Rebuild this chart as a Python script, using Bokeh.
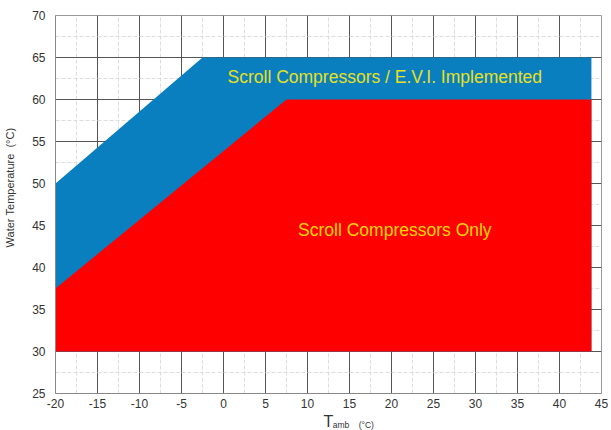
from bokeh.plotting import figure
from bokeh.models import (Range1d, SingleIntervalTicker, FixedTicker, LinearAxis,
                          Label, CustomJSTickFormatter)
from bokeh.embed import file_html
from bokeh.resources import INLINE

# Envelope boundaries (Tamb in °C, water temperature in °C)
evi_x = [-20, -2.5, 43.8, 43.8, -20]
evi_y = [50, 65, 65, 30, 30]
scroll_x = [-20, 7.5, 43.8, 43.8, -20]
scroll_y = [37.5, 60, 60, 30, 30]

evi_label = "Scroll Compressors / E.V.I. Implemented"
evi_label_pos = (19.2, 62.7)
scroll_label = "Scroll Compressors Only"
scroll_label_pos = (20.4, 44.5)

NB = "\u00a0"
y_title = NB * 11 + "Water" + NB + "Temperature" + NB + NB + "(°C)"
x_title_main = "T"
x_title_sub = NB * 21 + "amb" + NB * 4 + "(°C)"

FONT = "Liberation Sans"
TXT = "#333333"

p = figure(width=611, height=430, frame_width=546, frame_height=378,
           x_range=Range1d(-20, 45), y_range=Range1d(25, 70),
           output_backend="svg", toolbar_location=None,
           min_border_left=55, min_border_right=10, min_border_top=15, min_border_bottom=37)

p.background_fill_color = "white"
p.outline_line_color = "#999999"

fmt = CustomJSTickFormatter(code="return tick.toString();")
for ax in (p.xaxis[0], p.yaxis[0]):
    ax.ticker = SingleIntervalTicker(interval=5, num_minor_ticks=2)
    ax.formatter = fmt
    ax.major_tick_out = 0
    ax.major_tick_in = 0
    ax.minor_tick_out = 0
    ax.minor_tick_in = 0
    ax.axis_line_color = "#888888"
    ax.major_label_text_font = FONT
    ax.major_label_text_font_size = "12px"
    ax.major_label_text_color = TXT
    ax.axis_label_text_font = FONT
    ax.axis_label_text_font_style = "normal"
    ax.axis_label_text_color = TXT

p.xaxis.major_label_standoff = 5
p.yaxis.major_label_standoff = 10

p.yaxis.axis_label = y_title
p.yaxis.axis_label_text_font_size = "11px"
p.yaxis.axis_label_standoff = 13

p.xaxis.axis_label = x_title_main
p.xaxis.axis_label_text_font_size = "16px"
p.xaxis.axis_label_standoff = 2

sub_axis = LinearAxis(ticker=FixedTicker(ticks=[], minor_ticks=[]),
                      axis_line_color=None, major_tick_out=0, major_tick_in=0,
                      minor_tick_out=0, minor_tick_in=0,
                      axis_label=x_title_sub, axis_label_text_font=FONT,
                      axis_label_text_font_size="8.5px", axis_label_text_font_style="normal",
                      axis_label_text_color=TXT, axis_label_standoff=-13)
p.add_layout(sub_axis, "below")

for g in (p.xgrid[0], p.ygrid[0]):
    g.grid_line_color = "#555555"
    g.grid_line_width = 1
    g.minor_grid_line_color = "#dddddd"
    g.minor_grid_line_dash = "4 2"

p.patch(evi_x, evi_y, fill_color="#0a7fbf", line_color=None)
p.patch(scroll_x, scroll_y, fill_color="#ff0000", line_color=None)

p.add_layout(Label(x=evi_label_pos[0], y=evi_label_pos[1], text=evi_label,
                   text_align="center", text_baseline="middle",
                   text_font=FONT, text_font_size="17.5px", text_color="#e8e020"))
p.add_layout(Label(x=scroll_label_pos[0], y=scroll_label_pos[1], text=scroll_label,
                   text_align="center", text_baseline="middle",
                   text_font=FONT, text_font_size="17.5px", text_color="#ffd700"))

open("out.html", "w").write(file_html(p, INLINE))
